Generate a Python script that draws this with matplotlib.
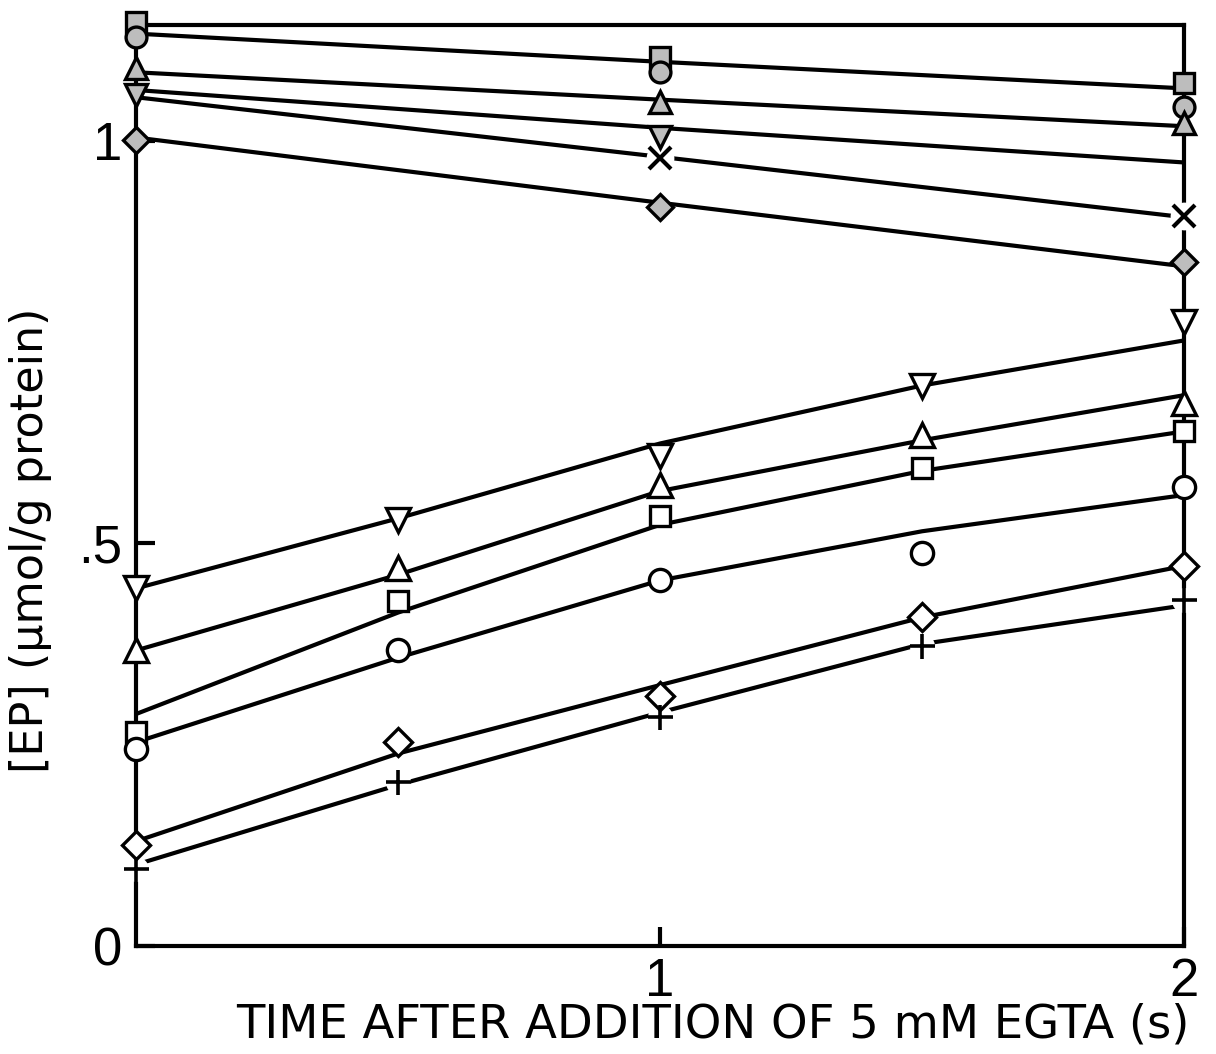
import matplotlib.pyplot as plt

plt.rcParams['font.family'] = ['DejaVu Sans']

# upper series (filled markers), straight lines read at t = 0, 1, 2
t_up = [0, 1, 2]
sq_fill = [1.148, 1.104, 1.072]
ci_fill = [1.129, 1.085, 1.042]
line_sq_ci = [1.133, 1.098, 1.065]
tu_fill = [1.090, 1.048, 1.022]
line_tu_fill = [1.085, 1.051, 1.018]
td_fill_t = [0, 1]
td_fill = [1.057, 1.005]
line_td_fill = [1.063, 1.016, 0.973]
x_t = [1, 2]
x_vals = [0.979, 0.906]
line_x = [1.054, 0.980, 0.905]
di_fill = [1.001, 0.918, 0.849]
line_di_fill = [1.004, 0.923, 0.844]

# lower series (open markers), curves read at t = 0 .. 2
t_lo = [0, 0.5, 1, 1.5, 2]
td_open = [0.444, 0.529, 0.609, 0.695, 0.775]
line_td_open = [0.444, 0.531, 0.624, 0.696, 0.752]
tu_open = [0.367, 0.470, 0.572, 0.634, 0.674]
line_tu_open = [0.367, 0.461, 0.565, 0.628, 0.684]
sq_open = [0.266, 0.428, 0.534, 0.593, 0.639]
line_sq_open = [0.288, 0.414, 0.523, 0.590, 0.639]
ci_open = [0.245, 0.367, 0.454, 0.488, 0.570]
line_ci_open = [0.253, 0.358, 0.454, 0.515, 0.560]
di_open = [0.126, 0.253, 0.311, 0.408, 0.472]
line_di_open = [0.130, 0.239, 0.324, 0.408, 0.472]
plus = [0.095, 0.204, 0.284, 0.372, 0.430]
line_plus = [0.101, 0.200, 0.290, 0.375, 0.423]

fig = plt.figure(figsize=(12.16, 10.54), dpi=100)
ax = fig.add_axes([0.1118, 0.1025, 0.862, 0.874])

lw = 3.0
gray = '#bdbdbd'

# lines first
for y in [line_sq_ci, line_tu_fill, line_td_fill, line_x, line_di_fill]:
    ax.plot(t_up, y, color='black', lw=lw, zorder=2, solid_capstyle='butt')
for y in [line_td_open, line_tu_open, line_sq_open, line_ci_open, line_di_open, line_plus]:
    ax.plot(t_lo, y, color='black', lw=lw, zorder=2, solid_capstyle='butt')

def marks(t, y, m, fc, ms=16):
    ax.plot(t, y, ls='none', marker=m, ms=ms, mfc=fc, mec='black', mew=2.4,
            zorder=4, clip_on=False)

# white gaps behind cross / plus markers
ax.plot(x_t, x_vals, ls='none', marker='o', ms=20, mfc='white', mec='none', zorder=3, clip_on=False)
ax.plot(t_lo, plus, ls='none', marker='o', ms=18, mfc='white', mec='none', zorder=3, clip_on=False)

marks(t_up, sq_fill, 's', gray, 15)
marks(t_up, ci_fill, 'o', gray, 15)
marks(t_up, tu_fill, '^', gray)
marks(td_fill_t, td_fill, 'v', gray)
marks(t_up, di_fill, 'D', gray, 13)
ax.plot(x_t, x_vals, ls='none', marker='x', ms=16, mec='black', mew=3, zorder=4, clip_on=False)

marks(t_lo, td_open, 'v', 'white', 17)
marks(t_lo, tu_open, '^', 'white', 17)
marks(t_lo, sq_open, 's', 'white', 14)
marks(t_lo, ci_open, 'o', 'white', 16)
marks(t_lo, di_open, 'D', 'white', 14)
ax.plot(t_lo, plus, ls='none', marker='+', ms=18, mec='black', mew=2.6, zorder=4, clip_on=False)

tick_font = ['Liberation Sans', 'DejaVu Sans']
ax.set_xlim(0, 2)
ax.set_ylim(0, 1.144)
ax.set_xticks([1, 2])
ax.set_xticklabels(['1', '2'], fontfamily=tick_font)
ax.set_yticks([0, 0.5, 1])
ax.set_yticklabels(['0', '.5', '1'], fontfamily=tick_font)
ax.tick_params(direction='in', length=14, width=3, labelsize=38)
ax.tick_params(axis='x', pad=8)
ax.tick_params(axis='y', pad=10)
for s in ax.spines.values():
    s.set_linewidth(3)

ax.set_xlabel('TIME AFTER ADDITION OF 5 mM EGTA (s)', fontsize=33.5)
ax.xaxis.set_label_coords(0.55, -0.061)
ax.set_ylabel('[EP] (μmol/g protein)', fontsize=32)
ax.yaxis.set_label_coords(-0.080, 0.44)

fig.savefig('out.png', dpi=100)
